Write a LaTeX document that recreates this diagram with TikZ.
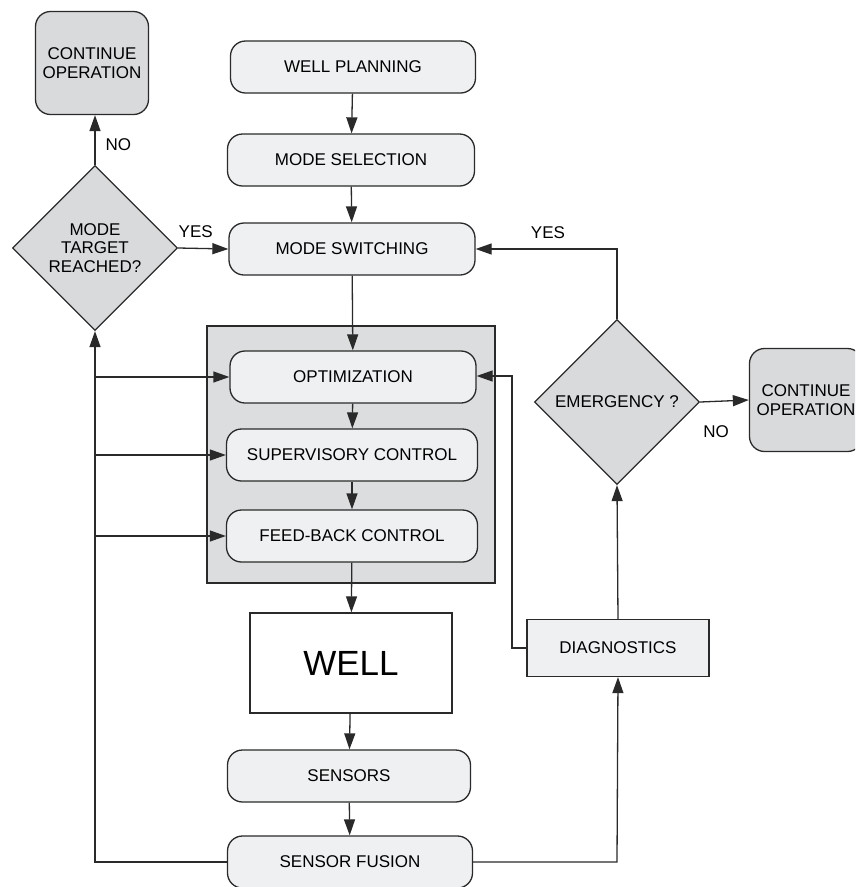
\documentclass[tikz,border=0pt]{standalone}
\usepackage{fontspec}
\setmainfont{Liberation Sans}
\usetikzlibrary{arrows.meta,shapes.geometric}
\definecolor{boxfill}{HTML}{EFF0F2}
\definecolor{panelfill}{HTML}{DCDDDF}
\definecolor{decfill}{HTML}{D9DADC}
\definecolor{linecol}{HTML}{2A2A2A}
\newcommand{\lab}{\fontsize{17}{18.5}\selectfont}
\tikzset{
  proc/.style={draw=linecol, line width=1.3pt, rounded corners=15pt, fill=boxfill, minimum height=52pt, inner sep=0pt, font=\lab, align=center},
  endbox/.style={draw=linecol, line width=1.3pt, rounded corners=15pt, fill=decfill, minimum width=113pt, minimum height=103pt, inner sep=0pt, font=\lab, align=center},
  decide/.style={draw=linecol, line width=1.3pt, diamond, aspect=1, fill=decfill, minimum width=165pt, minimum height=165pt, inner sep=0pt, font=\lab, align=center},
  plainbox/.style={draw=linecol, line width=1.3pt, fill=white, inner sep=0pt},
  arr/.style={-{Triangle[length=16pt,width=11pt]}, draw=linecol, line width=1.3pt},
  tag/.style={font=\lab, inner sep=0pt}
}
\begin{document}
\begin{tikzpicture}[x=1pt,y=-1pt]
\useasboundingbox (0,0) rectangle (855,887);
\clip (0,0) rectangle (855,887);
% gray panel
\path[fill=panelfill, draw=linecol, line width=1.3pt] (207,326) rectangle (495,583);
% main column
\node[proc, minimum width=245pt] (plan) at (353,67) {WELL PLANNING};
\node[proc, minimum width=247pt] (sel) at (351,160) {MODE SELECTION};
\node[proc, minimum width=246pt] (sw) at (352,249) {MODE SWITCHING};
\node[proc, minimum width=246pt] (opt) at (353,377) {OPTIMIZATION};
\node[proc, minimum width=251pt] (sup) at (352,455) {SUPERVISORY CONTROL};
\node[proc, minimum width=251pt] (fb) at (352,536) {FEED-BACK CONTROL};
\node[plainbox, minimum width=202pt, minimum height=100pt, font=\fontsize{35}{40}\selectfont] (well) at (351,663) {WELL};
\node[proc, minimum width=243pt] (sens) at (349,776) {SENSORS};
\node[proc, minimum width=245pt] (fus) at (350,862) {SENSOR FUSION};
% right side
\node[plainbox, fill=boxfill, minimum width=182pt, minimum height=57pt, font=\lab] (diag) at (618,648) {DIAGNOSTICS};
\node[decide] (emer) at (617,402) {EMERGENCY ?};
\node[endbox] (contR) at (806,400) {CONTINUE\\OPERATION};
% left side
\node[decide] (target) at (95,248) {MODE\\TARGET\\REACHED?};
\node[endbox] (contL) at (92,63) {CONTINUE\\OPERATION};
% coordinates
\coordinate (lb) at (95,862);
\coordinate (rb) at (617,862);
\coordinate (ey) at (617,249);
\coordinate (dx) at (512,648);
\coordinate (dy) at (512,376);
% main column arrows
\draw[arr] (plan) -- (sel);
\draw[arr] (sel) -- (sw);
\draw[arr] (sw) -- (opt);
\draw[arr] (opt) -- (sup);
\draw[arr] (sup) -- (fb);
\draw[arr] (fb) -- (well);
\draw[arr] (well) -- (sens);
\draw[arr] (sens) -- (fus);
% left feedback
\draw[arr] (fus.west) -- (lb) -- (target.south);
\draw[arr] (95,377) -- (opt.west);
\draw[arr] (95,455) -- (sup.west);
\draw[arr] (95,536) -- (fb.west);
\draw[arr] (target.north) -- (target.north |- contL.south) node[tag, pos=0.4, right=10pt] {NO};
\draw[arr] (target.east) -- (sw.west) node[tag, pos=0.35, above=10pt] {YES};
% right feedback
\draw[arr] (fus.east) -- (rb) -- (diag.south);
\draw[arr] (diag.north) -- (emer.south);
\draw[arr] (emer.north) -- (ey) -- (sw.east);
\node[tag] (yesR) at (548,233) {YES};
\draw[arr] (emer.east) -- (contR.west);
\node[tag] (noR) at (716,432) {NO};
\draw[arr] (diag.west) -- (dx) -- (dy) -- (opt.east |- dy);
\end{tikzpicture}
\end{document}
